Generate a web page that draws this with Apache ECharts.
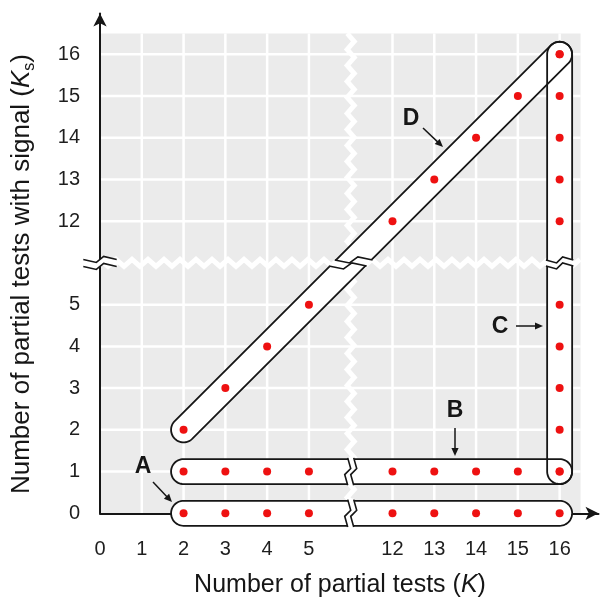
<!DOCTYPE html>
<html><head><meta charset="utf-8">
<script src="https://cdn.jsdelivr.net/npm/echarts@6/dist/echarts.min.js"></script>
<style>html,body{margin:0;padding:0;background:#fff}#c{width:601px;height:603px}</style>
</head><body><div id="c"></div>
<script>
// ---- tick labels of the broken axes (values 6..11 are skipped) ----
const xTickValues = [0, 1, 2, 3, 4, 5, 12, 13, 14, 15, 16];
const yTickValues = [0, 1, 2, 3, 4, 5, 12, 13, 14, 15, 16];

// ---- groups of partial tests: K (number of tests) and Ks (tests with signal) ----
const groupNames = ['A', 'B', 'C', 'D'];
const groupA_K  = [2, 3, 4, 5, 12, 13, 14, 15, 16];
const groupA_Ks = [0, 0, 0, 0, 0, 0, 0, 0, 0];
const groupB_K  = [2, 3, 4, 5, 12, 13, 14, 15, 16];
const groupB_Ks = [1, 1, 1, 1, 1, 1, 1, 1, 1];
const groupC_K  = [16, 16, 16, 16, 16, 16, 16, 16, 16, 16];
const groupC_Ks = [1, 2, 3, 4, 5, 12, 13, 14, 15, 16];
const groupD_K  = [2, 3, 4, 5, 12, 13, 14, 15, 16];
const groupD_Ks = [2, 3, 4, 5, 12, 13, 14, 15, 16];

const xTitle = 'Number of partial tests';
const yTitle = 'Number of partial tests with signal';

// ---- broken-axis mapping: values 0..5 keep place, 12..16 follow the gap ----
const LAST_LOW = 5, GAP = 6;
function pos(v) { return v <= LAST_LOW ? v : v - (GAP - 1); }
const BREAK_POS = LAST_LOW + 1;

const groups = [
  { name: groupNames[0], K: groupA_K, Ks: groupA_Ks },
  { name: groupNames[1], K: groupB_K, Ks: groupB_Ks },
  { name: groupNames[2], K: groupC_K, Ks: groupC_Ks },
  { name: groupNames[3], K: groupD_K, Ks: groupD_Ks }
];

const FONT = '"Liberation Sans", Arial, Helvetica, sans-serif';
const GRAY_END = 11.5;
const R = 12.5;
const INK = '#161616';

function labelFor(ticks) {
  return function (val) {
    for (const t of ticks) if (Math.abs(pos(t) - val) < 1e-6) return String(t);
    return '';
  };
}

function zigzag(a0, a1, c, horizontal, half, amp) {
  const pts = [];
  let k = 0;
  for (let t = a0; t <= a1 + 0.01; t += half, k++) {
    const off = (k % 2 ? amp : -amp);
    pts.push(horizontal ? [t, c + off] : [c + off, t]);
  }
  return pts;
}

function renderBackground(params, api) {
  const o = api.coord([0, 0]);
  const e = api.coord([GRAY_END, GRAY_END]);
  const ch = [];
  ch.push({ type: 'rect', shape: { x: o[0], y: e[1], width: e[0] - o[0], height: o[1] - e[1] },
            style: { fill: '#ebebeb' } });
  xTickValues.map(pos).filter(p => p > 0).forEach(p => {
    const a = api.coord([p, 0]);
    ch.push({ type: 'line', shape: { x1: a[0], y1: o[1], x2: a[0], y2: e[1] },
              style: { stroke: '#fff', lineWidth: 2.5 } });
  });
  yTickValues.map(pos).filter(p => p > 0).forEach(p => {
    const b = api.coord([0, p]);
    ch.push({ type: 'line', shape: { x1: o[0], y1: b[1], x2: e[0], y2: b[1] },
              style: { stroke: '#fff', lineWidth: 2.5 } });
  });
  const bx = api.coord([BREAK_POS, 0])[0];
  const by = api.coord([0, BREAK_POS])[1];
  ch.push({ type: 'polyline', shape: { points: zigzag(o[0], e[0], by, true, 8, 3.5) },
            style: { stroke: '#fff', lineWidth: 5, fill: null, lineJoin: 'miter' } });
  ch.push({ type: 'polyline', shape: { points: zigzag(e[1], o[1], bx, false, 8, 3.5) },
            style: { stroke: '#fff', lineWidth: 5, fill: null, lineJoin: 'miter' } });
  return { type: 'group', children: ch };
}

function capsulePts(p0, p1, r) {
  const dx = p1[0] - p0[0], dy = p1[1] - p0[1], L = Math.hypot(dx, dy) || 1;
  const u = [dx / L, dy / L], n = [-u[1], u[0]];
  const pts = [], N = 28;
  for (let i = 0; i <= N; i++) {
    const a = Math.PI / 2 - Math.PI * i / N;
    pts.push([p1[0] + (u[0] * Math.cos(a) + n[0] * Math.sin(a)) * r,
              p1[1] + (u[1] * Math.cos(a) + n[1] * Math.sin(a)) * r]);
  }
  for (let i = 0; i <= N; i++) {
    const a = -Math.PI / 2 - Math.PI * i / N;
    pts.push([p0[0] + (u[0] * Math.cos(a) + n[0] * Math.sin(a)) * r,
              p0[1] + (u[1] * Math.cos(a) + n[1] * Math.sin(a)) * r]);
  }
  return pts;
}

function breakGlyph(P, u, r, bandHorizontal, g, amp, ch, z2) {
  const b = bandHorizontal ? [1, 0] : [0, 1];
  const m = bandHorizontal ? [0, 1] : [1, 0];
  const n = [-u[1], u[0]];
  const bn = Math.abs(b[0] * n[0] + b[1] * n[1]) || 1;
  const um = u[0] * m[0] + u[1] * m[1];
  const fr = [[-1, 0], [-0.22, amp], [0.22, -amp], [1, 0]];
  function edge(off, S) {
    const t = off / um;
    const Q = [P[0] + u[0] * t, P[1] + u[1] * t];
    return fr.map(([f, z]) => [Q[0] + b[0] * f * S + m[0] * z, Q[1] + b[1] * f * S + m[1] * z]);
  }
  const Sw = r / bn + 2.2, Sl = r / bn + 1.2;
  const w1 = edge(-g, Sw), w2 = edge(g, Sw);
  ch.push({ type: 'polygon', shape: { points: w1.concat(w2.slice().reverse()) },
            style: { fill: '#fff', stroke: null }, z2: z2 });
  [edge(-g, Sl), edge(g, Sl)].forEach(pts => ch.push({
    type: 'polyline', shape: { points: pts },
    style: { stroke: INK, lineWidth: 1.6, fill: null }, z2: z2 + 1 }));
}

function renderCapsules(params, api) {
  const ch = [];
  const bx = api.coord([BREAK_POS, 0])[0];
  const by = api.coord([0, BREAK_POS])[1];
  groups.forEach(gp => {
    const n = gp.K.length;
    const p0 = api.coord([pos(gp.K[0]), pos(gp.Ks[0])]);
    const p1 = api.coord([pos(gp.K[n - 1]), pos(gp.Ks[n - 1])]);
    const pts = capsulePts(p0, p1, R);
    ch.push({ type: 'polygon', shape: { points: pts }, style: { fill: '#fff', stroke: null }, z2: 1 });
    ch.push({ type: 'polygon', shape: { points: pts }, style: { fill: null, stroke: INK, lineWidth: 1.8 }, z2: 2 });
    const L = Math.hypot(p1[0] - p0[0], p1[1] - p0[1]);
    const u = [(p1[0] - p0[0]) / L, (p1[1] - p0[1]) / L];
    if (Math.abs(u[1]) < 1e-6) {
      if ((p0[0] - bx) * (p1[0] - bx) < 0) {
        breakGlyph([bx, p0[1]], u, R, false, 3, 3, ch, 3);
      }
    } else if ((p0[1] - by) * (p1[1] - by) < 0) {
      const t = (by - p0[1]) / u[1];
      breakGlyph([p0[0] + u[0] * t, by], u, R, true, 3, 3, ch, 3);
    }
  });
  // break mark on the vertical axis
  const o = api.coord([0, 0]);
  breakGlyph([o[0], by], [0, -1], 15.5, true, 3.5, 3, ch, 5);
  return { type: 'group', children: ch };
}

const dots = [];
groups.forEach(gp => gp.K.forEach((k, i) => dots.push([pos(k), pos(gp.Ks[i])])));

const ZG = 100;
function arrow(x1, y1, x2, y2) {
  const L = Math.hypot(x2 - x1, y2 - y1), vx = (x2 - x1) / L, vy = (y2 - y1) / L;
  const hl = 8, hw = 3.6;
  return [
    { type: 'line', z: ZG, shape: { x1: x1, y1: y1, x2: x2 - vx * 6, y2: y2 - vy * 6 },
      style: { stroke: INK, lineWidth: 1.5 } },
    { type: 'polygon', z: ZG, shape: { points: [[x2, y2],
        [x2 - vx * hl - vy * hw, y2 - vy * hl + vx * hw],
        [x2 - vx * hl + vy * hw, y2 - vy * hl - vx * hw]] },
      style: { fill: INK } }
  ];
}
function letter(t, x, y) {
  return { type: 'text', z: ZG, style: { text: t, x: x, y: y, font: 'bold 23px ' + FONT, fill: INK,
           align: 'center', verticalAlign: 'middle' } };
}

const chart = echarts.init(document.getElementById('c'), null, { renderer: 'canvas' });
const XMAX = 11.93, YMAX = 11.977;
chart.setOption({
  animation: false,
  backgroundColor: '#fff',
  grid: { left: 100, right: 2.5, top: 13.5, bottom: 89.7, containLabel: false, outerBoundsMode: 'none' },
  xAxis: {
    type: 'value', min: 0, max: XMAX, interval: 1, z: 3,
    axisLine: { show: true, symbol: ['none', 'arrow'], symbolSize: [10, 13], lineStyle: { color: INK, width: 2 } },
    axisTick: { show: false }, splitLine: { show: false },
    axisLabel: { formatter: labelFor(xTickValues), margin: 26, fontSize: 20, color: '#1e1e1e', fontFamily: FONT,
                 showMinLabel: true, showMaxLabel: true }
  },
  yAxis: {
    type: 'value', min: 0, max: YMAX, interval: 1, z: 3,
    axisLine: { show: true, symbol: ['none', 'arrow'], symbolSize: [10, 13], lineStyle: { color: INK, width: 2 } },
    axisTick: { show: false }, splitLine: { show: false },
    axisLabel: { formatter: labelFor(yTickValues), margin: 20, fontSize: 20, color: '#1e1e1e', fontFamily: FONT,
                 showMinLabel: true, showMaxLabel: true }
  },
  series: [
    { type: 'custom', z: 1, clip: false, silent: true, renderItem: renderBackground, data: [[0, 0]] },
    { type: 'custom', z: 5, clip: false, silent: true, renderItem: renderCapsules, data: [[0, 0]] },
    { type: 'scatter', z: 6, symbol: 'circle', symbolSize: 8, silent: true,
      itemStyle: { color: '#ee1111', opacity: 1 }, data: dots }
  ],
  graphic: [
    { type: 'text', z: ZG, x: 340, y: 585, style: {
        text: '{r|' + xTitle + ' (}{i|K}{r|)}', align: 'center', verticalAlign: 'middle',
        rich: { r: { fontSize: 25, fontFamily: FONT, fill: INK },
                i: { fontSize: 25, fontFamily: FONT, fontStyle: 'italic', fill: INK } } } },
    { type: 'text', z: ZG, x: 22, y: 274, rotation: Math.PI / 2, style: {
        text: '{r|' + yTitle + ' (}{i|K}{s|s}{r|)}', align: 'center', verticalAlign: 'middle',
        rich: { r: { fontSize: 26, fontFamily: FONT, fill: INK, lineHeight: 32, verticalAlign: 'middle' },
                i: { fontSize: 26, fontFamily: FONT, fontStyle: 'italic', fill: INK, lineHeight: 32, verticalAlign: 'middle' },
                s: { fontSize: 16, fontFamily: FONT, fill: INK, lineHeight: 32, verticalAlign: 'bottom' } } } }
  ].concat([letter('A', 143, 467)], arrow(153, 482, 172, 502),
           [letter('B', 455, 411)], arrow(455, 428, 455, 456),
           [letter('C', 500, 327)], arrow(516, 326, 543, 326),
           [letter('D', 411, 119)], arrow(423, 128, 443, 147))
});
</script></body></html>
